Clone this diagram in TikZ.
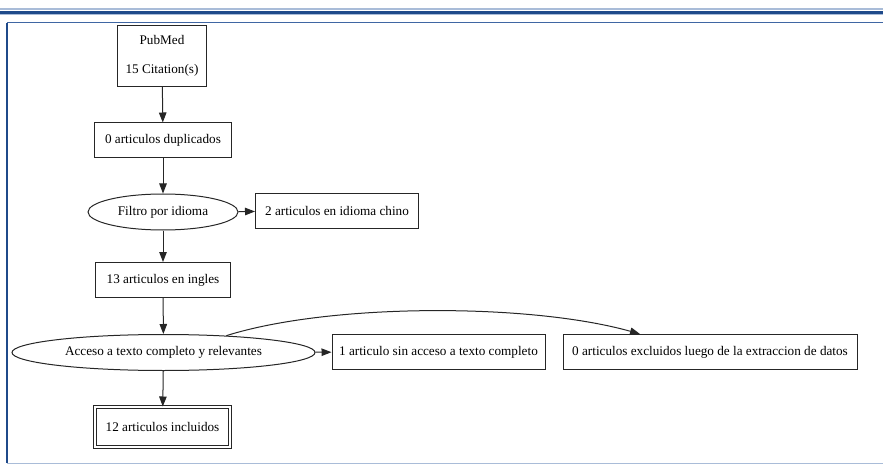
\documentclass[tikz,border=0pt]{standalone}
\usepackage{fontspec}
\setmainfont{Liberation Serif}
\usetikzlibrary{shapes.geometric,arrows.meta}
\definecolor{darkb}{HTML}{1F4A8A}
\definecolor{midb}{HTML}{3F66A3}
\definecolor{lightb}{HTML}{A9BCD8}
\definecolor{ln}{HTML}{262626}
\tikzset{
  boxn/.style={draw=ln, line width=1pt, rectangle, inner sep=0pt, font=\fontsize{13.2}{15}\selectfont, text=black},
  elln/.style={draw=ln, line width=1pt, ellipse, inner sep=0pt, font=\fontsize{13.2}{15}\selectfont, text=black},
  arr/.style={draw=ln, line width=1pt, -{Triangle[length=10pt,width=7.5pt]}},
}
\begin{document}
\begin{tikzpicture}[x=1pt,y=-1pt]
\useasboundingbox (0,0) rectangle (883,465);
% header lines
\fill[lightb] (0,8.3) rectangle (883,9.6);
\fill[darkb] (0,11.3) rectangle (883,14.2);
\fill[lightb] (0,14.2) rectangle (883,15.5);
% frame
\draw[midb, line width=1.2pt] (7,22.6) -- (883,22.6);
\draw[lightb, line width=1pt] (7,22.6) -- (7,463.3) -- (883,463.3);
\draw[darkb, line width=1.2pt] (7,22.6) -- (7,463);
% nodes
\node[boxn, minimum width=89pt, minimum height=61pt, align=center] (pub) at (162,56) {PubMed\\[14pt]15 Citation(s)};
\node[boxn, minimum width=137pt, minimum height=35pt] (dup) at (163,140.5) {0 articulos duplicados};
\node[elln, minimum width=150pt, minimum height=36pt] (fil) at (163,212) {Filtro por idioma};
\node[boxn, minimum width=163pt, minimum height=35pt] (chi) at (337,211) {2 articulos en idioma chino};
\node[boxn, minimum width=135pt, minimum height=35pt] (ing) at (163,280) {13 articulos en ingles};
\node[elln, minimum width=303pt, minimum height=36pt] (acc) at (163.5,352.5) {Acceso a texto completo y relevantes};
\node[boxn, minimum width=213pt, minimum height=35pt] (sin) at (438.5,352) {1 articulo sin acceso a texto completo};
\node[boxn, minimum width=294pt, minimum height=35pt] (exc) at (710,352) {0 articulos excluidos luego de la extraccion de datos};
\node[boxn, double=white, double distance=2.6pt, minimum width=135pt, minimum height=40pt] (inc) at (162.5,427) {12 articulos incluidos};
% edges
\draw[arr] (pub) -- (dup);
\draw[arr] (dup) -- (fil);
\draw[arr] (fil) -- (chi);
\draw[arr] (fil) -- (ing);
\draw[arr] (ing) -- (acc);
\draw[arr] (acc) -- (sin);
\draw[arr] (acc) -- (inc);
\draw[arr] (acc.15) .. controls (330,303) and (530,303) .. (exc.north -| 640,0);
\end{tikzpicture}
\end{document}
